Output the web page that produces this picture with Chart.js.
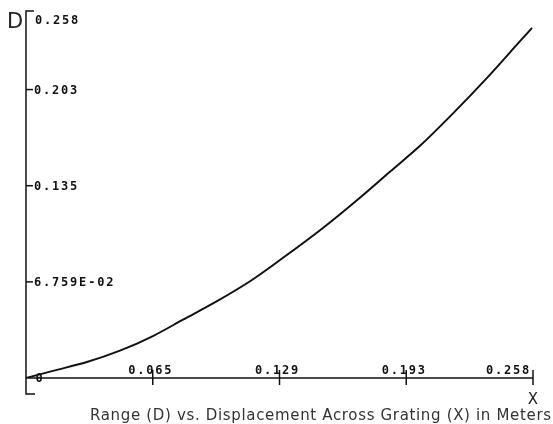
<!DOCTYPE html>
<html>
<head>
<meta charset="utf-8">
<script src="https://cdn.jsdelivr.net/npm/chart.js@4/dist/chart.umd.min.js"></script>
<style>
  html, body { margin: 0; padding: 0; background: #fff; }
  #rangeChart { display: block; }
</style>
</head>
<body>
<canvas id="rangeChart" width="553" height="424"></canvas>
<script>
// Displacement across grating X (m) and range D (m)
const xValues = [0, 0.0137, 0.0310, 0.0478, 0.0646, 0.0799, 0.0972, 0.1140, 0.1308,
                 0.1511, 0.1684, 0.1852, 0.2005, 0.2173, 0.2346, 0.2514, 0.2575];
const dValues = [0, 0.0050, 0.0112, 0.0192, 0.0295, 0.0410, 0.0540, 0.0680, 0.0845,
                 0.1055, 0.1250, 0.1450, 0.1632, 0.1860, 0.2110, 0.2368, 0.2461];

// axis ticks and their printed labels
const xTicks = [0.0645, 0.129, 0.1935, 0.258];
const xTickLabels = ['0.065', '0.129', '0.193', '0.258'];
const yTicks = [0.06759, 0.13518, 0.20277];
const yTickLabels = ['6.759E-02', '0.135', '0.203'];
const xMax = 0.258;
const yMax = 0.258;
const yMaxLabel = '0.258';

const titleText = 'Range (D) vs. Displacement Across Grating (X) in Meters';

const ctx = document.getElementById('rangeChart').getContext('2d');

const axesPlugin = {
    id: 'plotterAxes',
    afterDraw(chart) {
        const c = chart.ctx;
        const xs = chart.scales.x;
        const ys = chart.scales.y;
        const x0 = xs.getPixelForValue(0);
        const y0 = ys.getPixelForValue(0);
        const xEnd = xs.getPixelForValue(xMax);
        const yTop = ys.getPixelForValue(yMax);

        c.save();
        c.strokeStyle = '#111';
        c.fillStyle = '#111';
        c.lineWidth = 1.5;

        // y axis with brackets at both ends
        c.beginPath();
        c.moveTo(x0 + 8, yTop);
        c.lineTo(x0, yTop);
        c.lineTo(x0, y0 + 16);
        c.lineTo(x0 + 9, y0 + 16);
        c.stroke();

        // x axis
        c.beginPath();
        c.moveTo(x0, y0);
        c.lineTo(xEnd, y0);
        c.stroke();

        // x ticks
        xTicks.forEach(v => {
            const px = xs.getPixelForValue(v);
            c.beginPath();
            c.moveTo(px, y0 - 8);
            c.lineTo(px, y0 + 7);
            c.stroke();
        });

        // y ticks
        yTicks.forEach(v => {
            const py = ys.getPixelForValue(v);
            c.beginPath();
            c.moveTo(x0, py);
            c.lineTo(x0 + 7, py);
            c.stroke();
        });

        // tick labels, plotter style
        c.font = 'bold 12px "DejaVu Sans Mono"';
        c.letterSpacing = '1.8px';
        c.textBaseline = 'middle';
        c.textAlign = 'left';
        yTicks.forEach((v, i) => {
            c.fillText(yTickLabels[i], x0 + 8, ys.getPixelForValue(v) + 1);
        });
        c.fillText(yMaxLabel, x0 + 9, yTop + 10);

        c.textBaseline = 'alphabetic';
        xTicks.forEach((v, i) => {
            const px = xs.getPixelForValue(v);
            if (i === xTicks.length - 1) {
                c.textAlign = 'right';
                c.fillText(xTickLabels[i], px - 2, y0 - 4);
            } else {
                c.textAlign = 'center';
                c.fillText(xTickLabels[i], px - 2, y0 - 4);
            }
        });

        // origin marker
        c.textAlign = 'center';
        c.textBaseline = 'middle';
        c.fillText('0', x0 + 14, y0 + 1);

        // axis letters
        c.letterSpacing = '0px';
        c.fillStyle = '#222';
        c.font = '21px "DejaVu Sans"';
        c.textAlign = 'left';
        c.textBaseline = 'alphabetic';
        c.fillText('D', x0 - 19, yTop + 17);
        c.font = '15px "DejaVu Sans"';
        c.textAlign = 'center';
        c.fillText('X', xEnd, y0 + 26);

        // caption
        c.fillStyle = '#333';
        c.font = '15px "DejaVu Sans"';
        c.textAlign = 'left';
        const target = 461;
        const w = c.measureText(titleText).width;
        c.letterSpacing = ((target - w) / (titleText.length - 1)).toFixed(2) + 'px';
        c.fillText(titleText, 90, 420);
        c.restore();
    }
};

const rangeChart = new Chart(ctx, {
    type: 'scatter',
    data: {
        datasets: [{
            label: 'Range D',
            data: xValues.map((x, i) => ({ x: x, y: dValues[i] })),
            showLine: true,
            borderColor: '#111',
            borderWidth: 2,
            pointRadius: 0,
            cubicInterpolationMode: 'monotone',
            fill: false
        }]
    },
    options: {
        responsive: false,
        devicePixelRatio: 1,
        animation: false,
        layout: {
            padding: { left: 26, right: 20, top: 11, bottom: 46 }
        },
        plugins: {
            legend: { display: false },
            tooltip: { enabled: false }
        },
        scales: {
            x: { type: 'linear', min: 0, max: xMax, display: false },
            y: { type: 'linear', min: 0, max: yMax, display: false }
        }
    },
    plugins: [axesPlugin]
});
</script>
</body>
</html>
